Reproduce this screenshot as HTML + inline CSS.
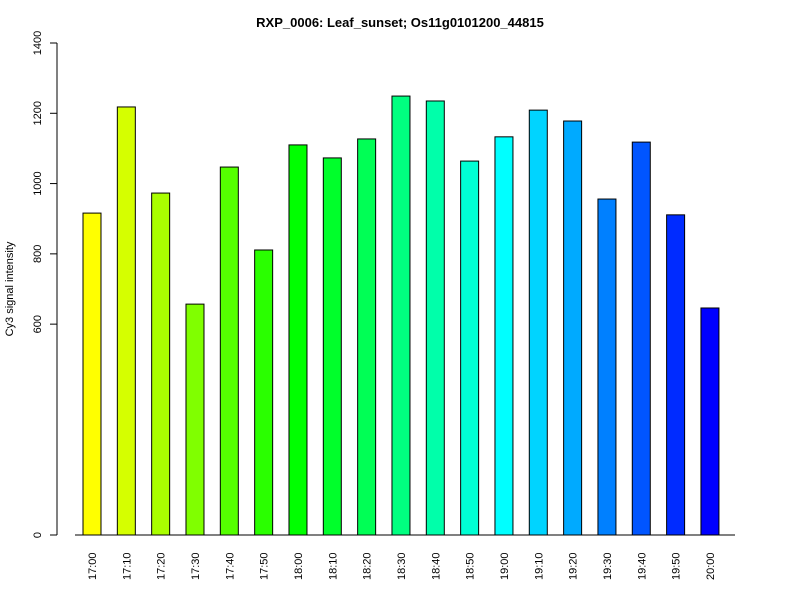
<!DOCTYPE html>
<html><head><meta charset="utf-8"><style>body{margin:0;background:#fff}svg{display:block;font-family:"Liberation Sans",Arial,sans-serif}</style></head>
<body>
<svg id="chart" width="800" height="600">
<text x="400" y="27" text-anchor="middle" font-weight="bold" font-size="13">RXP_0006: Leaf_sunset; Os11g0101200_44815</text>
<text transform="translate(13,289) rotate(-90)" text-anchor="middle" font-size="11">Cy3 signal intensity</text>
<g id="bars"></g><g id="axes"></g>
</svg>
<script>
const categories=["17:00","17:10","17:20","17:30","17:40","17:50","18:00","18:10","18:20","18:30","18:40","18:50","19:00","19:10","19:20","19:30","19:40","19:50","20:00"];
const values=[916,1218,973,657,1047,811,1110,1073,1127,1249,1235,1064,1133,1209,1178,956,1118,911,646];
const yTicks=[0,600,800,1000,1200,1400];
const NS="http://www.w3.org/2000/svg";
const y=v=>535-v*(492/1400);
const x=i=>92+i*34.33;
const bars=document.getElementById('bars'),axes=document.getElementById('axes');
function mk(tag,attrs,parent){const e=document.createElementNS(NS,tag);for(const k in attrs)e.setAttribute(k,attrs[k]);parent.appendChild(e);return e;}
const n=categories.length;
values.forEach((v,i)=>{
 const hue=60+180*i/(n-1);
 const r=mk('rect',{x:x(i)-9,y:y(v),width:18,height:535-y(v),fill:`hsl(${hue},100%,50%)`,stroke:'#000','stroke-width':1},bars);
 
 
 const t=mk('text',{transform:`translate(${x(i)+4},580) rotate(-90)`,'font-size':11},axes);
 t.textContent=categories[i];
 
 
});
const xl=mk('line',{x1:75,x2:735,y1:535,y2:535,stroke:'#000'},axes);


const yl=mk('line',{x1:57,x2:57,y1:y(1400),y2:y(0),stroke:'#000'},axes);


yTicks.forEach(t=>{
 const l=mk('line',{x1:50,x2:57,y1:y(t),y2:y(t),stroke:'#000'},axes);
 
 
 const tx=mk('text',{transform:`translate(41,${y(t)}) rotate(-90)`,'text-anchor':'middle','font-size':11},axes);
 tx.textContent=t;
 
 
});
</script>
</body></html>
